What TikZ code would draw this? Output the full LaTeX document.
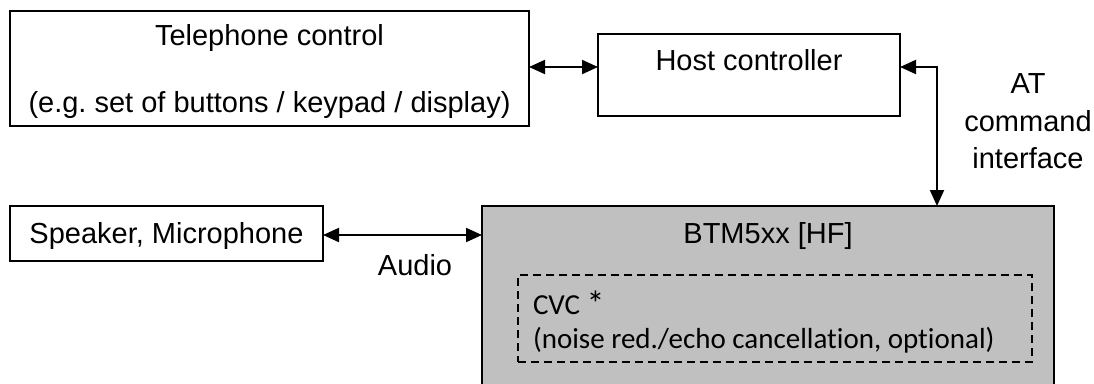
\documentclass[tikz,border=0pt]{standalone}
\usepackage{fontspec}
\setmainfont{Liberation Sans}
\newfontfamily\calibrifont[RawFeature=-liga]{Carlito}
\usetikzlibrary{arrows.meta}
\definecolor{boxgray}{HTML}{C0C0C0}
\frenchspacing
\tikzset{
  box/.style={draw=black, line width=1.4pt, fill=white, inner sep=0pt, outer sep=0pt},
  graybox/.style={box, fill=boxgray},
  dashbox/.style={draw=black, line width=1.4pt, dash pattern=on 8pt off 5pt, inner sep=0pt, outer sep=0pt},
  lbl/.style={inner sep=0pt, outer sep=0pt, font=\fontsize{29}{35}\selectfont},
  clbl/.style={inner sep=0pt, outer sep=0pt, font=\calibrifont\fontsize{29}{35}\selectfont},
  arr/.style={line width=2pt, {Triangle[length=16pt,width=14pt]}-{Triangle[length=16pt,width=14pt]}},
}
\begin{document}
\begin{tikzpicture}[x=1pt,y=-1pt]
\useasboundingbox (0,0) rectangle (1094,383);
\clip (0,0) rectangle (1094,383);
% boxes
\node[box, minimum width=519pt, minimum height=115pt] (tel) at (269.5,68.5) {};
\node[box, minimum width=302pt, minimum height=82pt] (host) at (749,75) {};
\node[box, minimum width=313pt, minimum height=55pt] (spk) at (166.5,233.5) {};
\node[graybox, minimum width=572pt, minimum height=200pt] (btm) at (768,306) {};
\node[dashbox, minimum width=514pt, minimum height=87pt] (cvc) at (775,318.5) {};
% texts
\node[lbl, anchor=base] (tel1) at (269.5,45) {Telephone control};
\node[lbl, anchor=base] (tel2) at (269.5,112) {(e.g. set of buttons / keypad / display)};
\node[lbl, anchor=base] (hostt) at (749,70) {Host controller};
\node[lbl, anchor=base] (spkt) at (166.5,243) {Speaker, Microphone};
\node[lbl, anchor=base] (btmt) at (768,243) {BTM5xx [HF]};
\node[clbl, anchor=base west] (cvc1) at (533,314) {CVC {\fontsize{36}{40}\selectfont\raisebox{-2pt}{*}}};
\node[clbl, anchor=base west] (cvc2) at (533,348) {(noise red./echo cancellation, optional)};
\node[lbl, anchor=base] (at1) at (1028,93) {AT};
\node[lbl, anchor=base] (at2) at (1028,131) {command};
\node[lbl, anchor=base] (at3) at (1028,168) {interface};
\node[lbl, anchor=base] (audio) at (415,275) {Audio};
% connectors
\coordinate (corner) at (937,67);
\draw[arr] ([yshift=1.5pt]tel.east) -- ([yshift=1.5pt]tel.east -| host.west);
\draw[arr] (corner -| host.east) -| (corner |- btm.north);
\draw[arr] ([yshift=-1.5pt]spk.east) -- ([yshift=-1.5pt]spk.east -| btm.west);
\end{tikzpicture}
\end{document}
